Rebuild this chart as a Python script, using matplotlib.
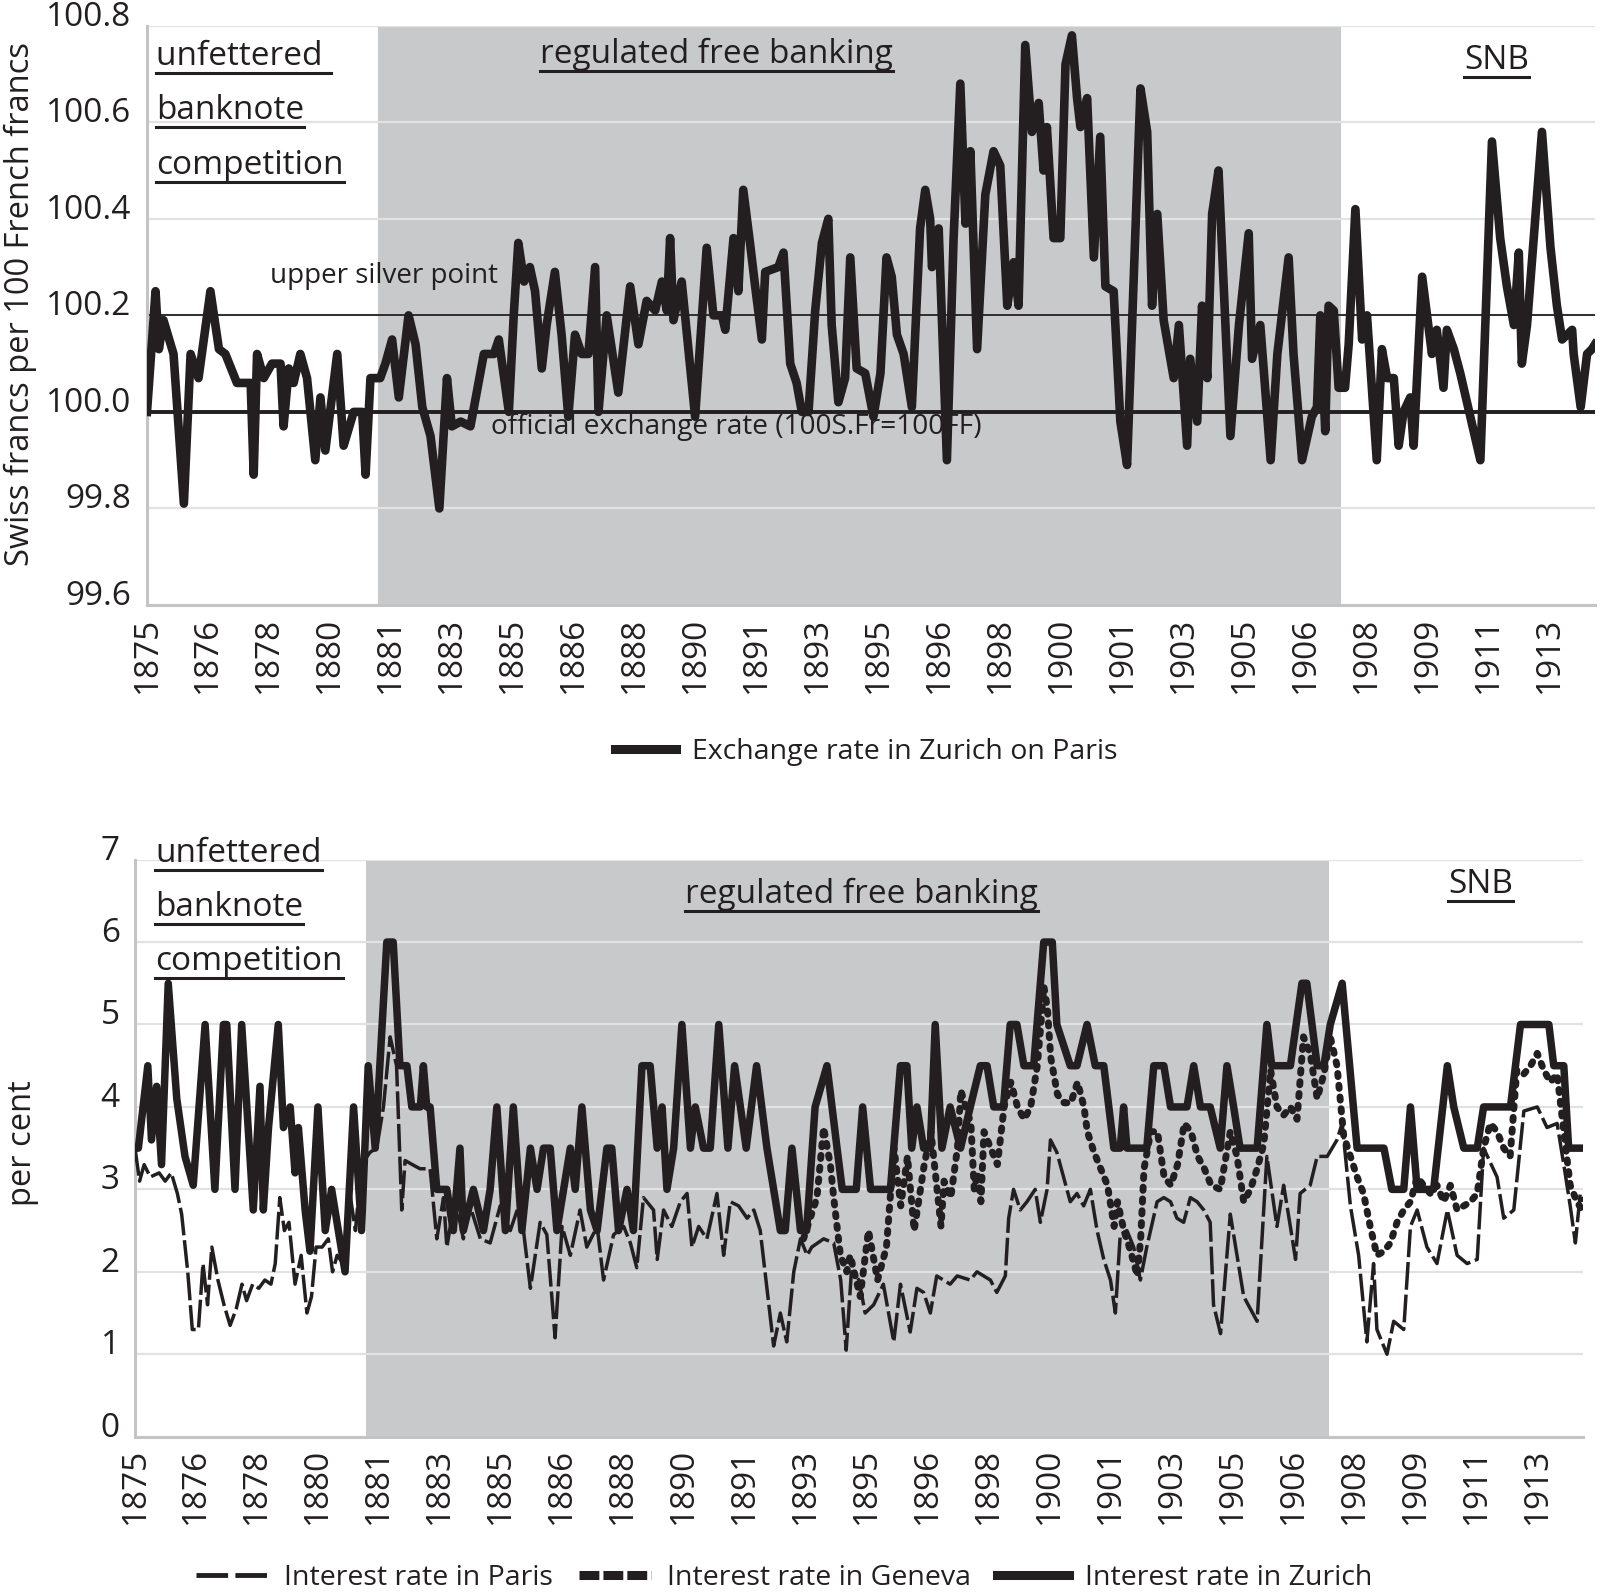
import numpy as np
import matplotlib.pyplot as plt
from matplotlib.lines import Line2D

plt.rcParams['font.family'] = ['Open Sans', 'DejaVu Sans']

INK = '#231f20'
SHADE = '#c8c9cb'
GRID = '#e2e2e2'
AXIS = '#c4c4c4'

W, H = 1600, 1593

# monthly observation index (0 = Jan 1875), one label every 20 observations
year_labels = ['1875', '1876', '1878', '1880', '1881', '1883', '1885', '1886',
               '1888', '1890', '1891', '1893', '1895', '1896', '1898', '1900',
               '1901', '1903', '1905', '1906', '1908', '1909', '1911', '1913']
n_obs = 476
regulated_start, regulated_end = 75.8, 391.7

official_rate = 100.0
upper_silver_point = 100.2

# exchange rate in Zurich on Paris (S.Fr per 100 FF)
fx_idx = [0, 2.8, 3.9, 5.4, 8.7, 12.1, 14.3, 16.9, 20.8, 23.6, 25.7, 29.5, 34.0, 35.0,
          36.1, 38.3, 41.0, 43.8, 44.8, 46.5, 48.1, 50.3, 52.5, 55.2, 56.9, 58.5, 62.4,
          64.5, 67.8, 70.6, 71.7, 73.3, 76.5, 78.2, 80.4, 82.6, 85.8, 88.1, 90.3, 93.0,
          95.9, 98.4, 100.0, 102.9, 106.1, 110.5, 113.8, 115.4, 118.7, 120.3, 121.8,
          123.7, 125.6, 127.3, 129.5, 131.1, 133.8, 136.0, 138.2, 140.4, 142.6, 144.8,
          147.0, 148.1, 150.8, 154.6, 158.5, 161.2, 163.9, 166.7, 168.9, 170.5, 171.6,
          172.7, 175.4, 179.8, 183.6, 185.8, 188.6, 189.7, 192.4, 194.0, 195.6, 197.8,
          199.5, 201.7, 202.8, 207.1, 208.8, 211.0, 213.1, 214.8, 217.0, 219.2, 221.4,
          223.5, 224.6, 226.8, 229.0, 230.7, 232.8, 235.6, 238.3, 240.6, 242.6, 244.3,
          246.0, 248.2, 250.9, 253.6, 255.3, 256.9, 257.5, 259.7, 262.4, 264.6, 266.8,
          268.5, 270.1, 272.3, 275.0, 277.7, 279.9, 282.2, 284.3, 285.9, 288.1, 290.3,
          292.5, 294.1, 295.2, 297.4, 299.6, 301.3, 303.4, 305.1, 306.2, 308.4, 310.6,
          312.7, 314.4, 317.1, 319.3, 321.5, 323.7, 325.9, 328.1, 329.7, 331.4, 333.5,
          336.8, 338.5, 341.2, 342.2, 344.5, 346.1, 347.8, 349.4, 351.5, 355.4, 358.2,
          361.4, 362.5, 365.2, 368.6, 370.8, 374.5, 376.1, 378.9, 382.1, 383.8, 384.9,
          386.5, 387.6, 389.3, 390.9, 393.0, 394.2, 396.4, 398.6, 400.2, 403.4, 405.1,
          406.8, 409.0, 410.6, 412.2, 414.4, 415.5, 418.3, 419.9, 421.5, 423.1, 425.3,
          426.4, 428.7, 430.8, 434.1, 437.4, 441.2, 443.9, 446.1, 448.4, 450.0, 451.0,
          452.7, 457.6, 460.4, 462.5, 464.2, 467.5, 468.0, 470.3, 472.4, 474.0, 475.0]
fx_val = [100.00, 100.25, 100.13, 100.19, 100.12, 99.81, 100.12, 100.07, 100.25, 100.13,
          100.12, 100.06, 100.06, 99.87, 100.12, 100.07, 100.10, 100.10, 99.97, 100.09,
          100.06, 100.12, 100.07, 99.90, 100.03, 99.92, 100.12, 99.93, 100.00, 100.00,
          99.87, 100.07, 100.07, 100.10, 100.15, 100.03, 100.20, 100.14, 100.01, 99.95,
          99.80, 100.07, 99.97, 99.98, 99.97, 100.12, 100.12, 100.15, 100.00, 100.20,
          100.35, 100.27, 100.30, 100.25, 100.09, 100.18, 100.29, 100.16, 99.99, 100.16,
          100.12, 100.12, 100.30, 100.00, 100.20, 100.04, 100.26, 100.14, 100.23, 100.21,
          100.27, 100.21, 100.36, 100.19, 100.27, 99.99, 100.34, 100.20, 100.20, 100.17,
          100.36, 100.25, 100.46, 100.35, 100.26, 100.15, 100.29, 100.30, 100.33, 100.10,
          100.06, 100.00, 100.00, 100.21, 100.35, 100.40, 100.18, 100.02, 100.07, 100.32,
          100.09, 100.08, 99.99, 100.08, 100.32, 100.28, 100.16, 100.12, 100.01, 100.38,
          100.46, 100.40, 100.30, 100.38, 99.90, 100.36, 100.68, 100.39, 100.54, 100.13,
          100.45, 100.54, 100.51, 100.22, 100.31, 100.22, 100.76, 100.58, 100.64, 100.50,
          100.59, 100.36, 100.36, 100.72, 100.78, 100.65, 100.59, 100.65, 100.32, 100.57,
          100.26, 100.25, 99.98, 99.89, 100.28, 100.67, 100.58, 100.22, 100.41, 100.19,
          100.07, 100.18, 99.93, 100.11, 99.98, 100.22, 100.07, 100.41, 100.50, 99.95,
          100.18, 100.37, 100.11, 100.18, 99.90, 100.12, 100.32, 100.12, 99.90, 99.99,
          100.01, 100.20, 99.96, 100.22, 100.21, 100.05, 100.05, 100.14, 100.42, 100.15,
          100.20, 99.90, 100.13, 100.07, 100.07, 99.93, 100.00, 100.03, 99.93, 100.28,
          100.20, 100.12, 100.17, 100.05, 100.17, 100.13, 100.08, 99.99, 99.90, 100.56,
          100.36, 100.26, 100.18, 100.33, 100.10, 100.18, 100.58, 100.34, 100.22, 100.15,
          100.17, 100.12, 100.01, 100.12, 100.13, 100.14]

# interest rate in Paris (per cent)
pa_idx = [0, 1.5, 3.0, 5.0, 7.9, 9.9, 11.9, 13.9, 15.3, 17.3, 18.8, 20.8, 22.3, 23.8,
          25.2, 27.2, 29.2, 31.2, 33.2, 35.1, 36.6, 38.6, 40.6, 42.6, 44.6, 46.0, 47.5,
          49.0, 50.5, 52.5, 54.5, 56.4, 57.9, 59.4, 61.4, 63.4, 64.8, 66.3, 68.3, 70.3,
          72.3, 74.3, 77.1, 79.3, 81.5, 83.7, 85.8, 87.5, 88.6, 91.0, 93.5, 96.8, 99.0,
          101.2, 102.3, 105.0, 107.7, 109.9, 113.3, 116.5, 119.8, 123.1, 126.3, 129.7,
          132.9, 135.1, 137.8, 140.1, 142.8, 146.0, 148.2, 151.6, 153.7, 157.0, 160.3,
          162.5, 164.6, 166.8, 170.1, 171.3, 173.4, 176.1, 178.9, 181.1, 182.7, 184.9,
          187.6, 190.9, 193.1, 195.3, 198.0, 200.8, 203.0, 205.1, 207.3, 209.5, 211.7,
          213.8, 216.1, 218.3, 220.5, 222.0, 225.9, 229.2, 231.5, 233.3, 235.0, 237.5,
          239.5, 242.3, 245.5, 248.9, 251.1, 254.3, 256.5, 258.7, 260.9, 263.0, 265.2,
          267.4, 269.7, 274.0, 276.2, 278.4, 280.6, 282.7, 285.5, 286.6, 288.2, 290.4,
          292.6, 295.3, 297.0, 299.2, 300.3, 302.4, 304.6, 306.8, 309.0, 311.2, 313.4,
          315.6, 317.8, 320.0, 321.6, 323.2, 325.4, 327.6, 329.8, 331.9, 335.3, 337.5,
          339.7, 341.8, 344.0, 346.2, 348.4, 350.6, 352.7, 353.8, 356.1, 359.3, 363.7,
          368.1, 371.3, 374.6, 376.8, 379.0, 380.7, 382.2, 385.5, 387.8, 391.1, 394.3,
          396.0, 398.7, 401.4, 404.1, 406.3, 407.4, 410.7, 412.9, 416.2, 418.4, 420.6,
          423.8, 427.1, 430.5, 433.7, 437.0, 440.3, 442.4, 446.8, 449.0, 452.3, 455.6,
          460.0, 463.2, 466.5, 468.7, 470.8, 472.5, 474.1, 475.0]
pa_val = [3.5, 3.1, 3.3, 3.15, 3.2, 3.1, 3.2, 2.95, 2.7, 2.0, 1.3, 1.3, 2.1, 1.6, 2.3,
          1.9, 1.6, 1.35, 1.55, 1.85, 1.65, 1.85, 1.8, 1.9, 1.85, 2.1, 2.9, 2.5, 2.6,
          1.85, 2.2, 1.5, 1.7, 2.3, 2.3, 2.4, 2.0, 2.2, 2.1, 3.0, 2.5, 3.3, 3.45, 3.5,
          4.0, 4.85, 4.5, 2.75, 3.35, 3.3, 3.25, 3.25, 2.4, 2.9, 2.3, 2.9, 2.4, 2.8, 2.4,
          2.35, 2.8, 2.5, 2.85, 1.8, 2.6, 2.45, 1.2, 2.55, 2.2, 2.75, 2.3, 2.55, 1.9,
          2.45, 2.55, 2.35, 2.05, 2.9, 2.75, 2.15, 2.75, 2.55, 2.85, 2.95, 2.3, 2.55, 2.4,
          2.95, 2.2, 2.85, 2.8, 2.65, 2.75, 2.5, 1.8, 1.1, 1.5, 1.15, 2.0, 2.4, 2.2, 2.3,
          2.4, 2.35, 1.9, 1.05, 2.0, 1.9, 1.5, 1.6, 1.85, 1.15, 1.85, 1.27, 1.8, 1.75,
          1.5, 1.95, 1.9, 1.85, 1.95, 1.9, 2.0, 1.95, 1.9, 1.75, 1.95, 2.65, 3.0, 2.75,
          2.85, 3.0, 2.6, 3.0, 3.6, 3.45, 3.15, 2.85, 2.95, 2.8, 3.0, 2.5, 2.15, 1.9,
          1.5, 2.45, 2.5, 2.3, 1.9, 2.3, 2.85, 2.9, 2.85, 2.65, 2.6, 2.9, 2.85, 2.75, 2.6,
          1.6, 1.25, 2.7, 1.7, 1.4, 3.4, 2.55, 3.05, 2.55, 2.15, 2.95, 3.05, 3.4, 3.4,
          3.6, 3.8, 2.8, 2.2, 1.15, 2.1, 1.3, 1.0, 1.4, 1.3, 2.55, 2.75, 2.3, 2.1, 2.75,
          2.2, 2.1, 2.15, 3.5, 3.15, 2.65, 2.75, 3.95, 4.0, 3.75, 3.8, 3.3, 2.8, 2.35,
          2.95, 2.85]

# interest rate in Geneva (per cent), series begins 1893
ge_idx = [219.3, 223.7, 225.9, 228.1, 229.2, 231.4, 233.5, 234.6, 237.9, 240.6, 243.6,
          246.5, 249.0, 251.2, 253.4, 255.6, 258.9, 261.1, 264.4, 265.4, 267.6, 269.8,
          270.9, 274.2, 275.3, 276.4, 277.5, 278.5, 280.7, 282.9, 285.1, 287.3, 289.5,
          291.7, 293.8, 296.0, 298.2, 299.3, 300.4, 302.6, 304.8, 307.0, 309.2, 311.3,
          312.4, 314.6, 316.8, 319.0, 321.2, 322.3, 324.4, 326.6, 328.8, 329.9, 331.0,
          333.2, 335.4, 337.6, 339.8, 342.0, 344.2, 346.4, 348.6, 350.8, 353.0, 356.0,
          359.3, 361.5, 363.7, 365.9, 368.1, 370.3, 372.5, 374.6, 376.8, 379.0, 381.2,
          383.3, 385.5, 387.8, 390.0, 392.1, 394.3, 396.5, 398.7, 400.9, 403.0, 405.2,
          407.4, 409.7, 411.8, 414.0, 416.2, 418.4, 420.6, 422.7, 424.9, 427.1, 429.3,
          431.5, 433.7, 435.9, 438.1, 440.3, 442.4, 444.6, 446.8, 449.0, 451.1, 453.3,
          455.6, 457.8, 460.0, 462.1, 464.3, 466.5, 468.7, 470.8, 473.0, 474.7]
ge_val = [2.4, 2.9, 3.75, 3.3, 2.9, 2.2, 2.0, 2.2, 1.7, 2.5, 1.9, 2.3, 3.5, 2.8, 3.4,
          2.5, 3.3, 3.7, 2.55, 3.1, 2.9, 3.5, 4.2, 3.8, 3.0, 3.2, 2.85, 3.7, 3.5, 3.3,
          4.0, 4.3, 4.0, 3.85, 4.0, 4.5, 5.45, 5.2, 4.6, 4.15, 4.05, 4.05, 4.3, 4.0, 3.7,
          3.45, 3.25, 3.05, 2.55, 2.85, 2.5, 2.25, 1.95, 2.4, 3.25, 3.7, 3.7, 3.15, 3.05,
          3.3, 3.8, 3.7, 3.4, 3.25, 3.05, 3.0, 3.7, 3.4, 2.85, 3.0, 3.25, 3.55, 4.45, 4.0,
          3.9, 4.0, 3.85, 4.85, 4.65, 4.1, 4.4, 4.85, 4.5, 3.65, 3.4, 3.15, 2.95, 2.55,
          2.2, 2.25, 2.35, 2.6, 2.75, 2.85, 3.15, 3.05, 2.95, 3.05, 2.85, 3.05, 2.75, 2.8,
          2.85, 2.95, 3.5, 3.8, 3.7, 3.5, 3.4, 4.45, 4.4, 4.5, 4.65, 4.45, 4.3, 4.4, 3.7,
          3.05, 2.85, 2.75]

# interest rate in Zurich (per cent)
zh_idx = [0, 1.1, 4.2, 5.4, 7.1, 8.7, 10.9, 13.7, 16.4, 19.1, 23.0, 26.2, 29.0, 30.1,
          32.8, 35.0, 38.8, 41.0, 42.1, 43.8, 47.0, 48.7, 50.9, 52.5, 53.6, 55.8, 57.4,
          60.0, 62.4, 64.5, 66.7, 68.9, 71.7, 74.3, 76.5, 78.8, 82.6, 84.7, 86.9, 89.2,
          90.8, 93.6, 94.6, 95.7, 96.8, 99.0, 102.3, 104.4, 106.6, 107.7, 111.0, 114.3,
          116.5, 118.7, 121.5, 124.1, 126.9, 129.7, 131.9, 134.0, 136.2, 138.4, 142.8,
          144.4, 146.6, 149.4, 151.6, 154.8, 156.4, 158.6, 161.4, 163.5, 166.3, 169.0,
          171.3, 172.9, 174.5, 176.7, 179.4, 182.2, 183.8, 186.5, 188.7, 191.5, 194.5,
          196.7, 200.5, 203.9, 207.3, 209.5, 211.7, 213.3, 215.5, 218.3, 220.3, 223.1,
          227.0, 230.3, 232.0, 236.6, 238.7, 241.3, 247.8, 251.1, 253.2, 254.8, 256.5,
          258.7, 260.9, 262.5, 264.7, 267.4, 270.8, 274.0, 277.3, 279.5, 281.7, 284.9,
          287.1, 289.3, 291.6, 294.8, 298.1, 300.9, 302.4, 306.8, 309.0, 312.3, 315.0,
          317.8, 321.1, 323.2, 324.3, 325.4, 331.9, 334.2, 337.5, 339.7, 345.1, 347.3,
          349.5, 352.7, 356.0, 358.2, 360.4, 362.5, 368.1, 371.3, 372.9, 379.0, 382.8,
          384.4, 387.8, 390.0, 392.1, 396.0, 400.9, 409.7, 412.3, 416.2, 418.4, 420.6,
          426.0, 430.5, 432.6, 435.9, 440.3, 442.4, 451.2, 454.5, 463.8, 465.4, 468.7,
          470.3, 475.0]
zh_val = [3.5, 3.5, 4.5, 3.6, 4.25, 3.3, 5.5, 4.1, 3.4, 3.05, 5.0, 3.0, 5.0, 5.0, 3.0,
          5.0, 2.75, 4.25, 2.75, 3.75, 5.0, 3.75, 4.0, 3.2, 3.75, 2.75, 2.25, 4.0, 2.5,
          3.0, 2.5, 2.0, 4.0, 2.5, 4.5, 3.5, 6.0, 6.0, 4.5, 4.5, 4.0, 4.0, 4.5, 4.0, 4.0,
          3.0, 3.0, 2.5, 3.5, 2.5, 3.0, 2.5, 3.0, 4.0, 2.5, 4.0, 2.5, 3.5, 3.0, 3.5, 3.5,
          2.5, 3.5, 3.0, 4.0, 2.75, 2.5, 3.5, 3.5, 2.5, 3.0, 2.5, 4.5, 4.5, 3.5, 4.0, 3.0,
          3.5, 5.0, 3.5, 4.0, 3.5, 3.5, 5.0, 3.5, 4.5, 3.5, 4.5, 3.5, 3.0, 2.5, 2.5, 3.5,
          2.5, 2.5, 4.0, 4.5, 3.5, 3.0, 3.0, 4.0, 3.0, 3.0, 4.5, 4.5, 3.5, 4.0, 3.5, 3.5,
          5.0, 3.5, 4.0, 3.5, 4.0, 4.5, 4.5, 4.0, 4.0, 5.0, 5.0, 4.5, 4.5, 6.0, 6.0, 5.0,
          4.5, 4.5, 5.0, 4.5, 4.5, 3.5, 3.5, 4.0, 3.5, 3.5, 4.5, 4.5, 4.0, 4.0, 4.5, 4.0,
          4.0, 3.5, 4.5, 4.0, 3.5, 3.5, 5.0, 4.5, 4.5, 5.5, 5.5, 4.5, 4.5, 5.0, 5.5, 3.5,
          3.5, 3.0, 3.0, 4.0, 3.0, 3.0, 4.5, 4.0, 3.5, 3.5, 4.0, 4.0, 5.0, 5.0, 4.5, 4.5,
          3.5, 3.5]


def fx(px):
    return px / W


def fy(py):
    return 1 - py / H


def style_axes(ax, yticks, ylabels, xpad, ypad):
    ax.set_xlim(0, n_obs - 1)
    ax.set_ylim(yticks[0], yticks[-1])
    ax.axvspan(regulated_start, regulated_end, color=SHADE, lw=0, zorder=0)
    ax.set_axisbelow(True)
    ax.set_xticks(np.arange(0, 20 * len(year_labels), 20))
    ax.set_xticklabels(year_labels, rotation=90, fontsize=24, color=INK)
    ax.set_xticks(np.arange(40, n_obs, 40), minor=True)
    ax.set_yticks(yticks)
    ax.set_yticklabels(ylabels, fontsize=24, color=INK, va='baseline')
    ax.tick_params(axis='x', which='both', length=0, pad=xpad)
    ax.tick_params(axis='y', length=0, pad=ypad)
    ax.grid(axis='x', which='minor', color=GRID, lw=1.6)
    ax.grid(axis='y', which='major', color=GRID, lw=1.6)
    for side in ('top', 'right'):
        ax.spines[side].set_visible(False)
    for side in ('left', 'bottom'):
        ax.spines[side].set_color(AXIS)
        ax.spines[side].set_linewidth(2.2)


fig = plt.figure(figsize=(W / 100, H / 100), dpi=100)
ax1 = fig.add_axes([fx(147), fy(605), 1448 / W, (605 - 25.7) / H])
ax2 = fig.add_axes([fx(135), fy(1436.7), 1448 / W, (1436.7 - 859.6) / H])

# top panel: exchange rate
top_ticks = [99.6, 99.8, 100.0, 100.2, 100.4, 100.6, 100.8]
style_axes(ax1, top_ticks, [f'{v:.1f}' for v in top_ticks], xpad=8.5, ypad=11.5)
ax1.axhline(upper_silver_point, color=INK, lw=1.3, zorder=2)
ax1.axhline(official_rate, color=INK, lw=2.8, zorder=2)
ax1.plot(fx_idx, fx_val, color=INK, lw=6.2, zorder=3, solid_joinstyle='round')

ax1.text(fx(270), fy(275.5), 'upper silver point', transform=fig.transFigure,
         fontsize=20, color=INK, va='center', ha='left', zorder=2.5)
ax1.text(fx(491), fy(426.6), 'official exchange rate (100S.Fr=100FF)',
         transform=fig.transFigure, fontsize=20.2, color=INK, va='center',
         ha='left', zorder=2.5)

# bottom panel: interest rates
bot_ticks = list(range(0, 8))
style_axes(ax2, bot_ticks, [str(v) for v in bot_ticks], xpad=8, ypad=11)
ax2.plot(pa_idx, pa_val, color=INK, lw=2.5, ls=(0, (8, 1.4)), zorder=3)
ax2.plot(ge_idx, ge_val, color=INK, lw=5.0, ls=(0, (0.45, 1.25)),
         dash_capstyle='round', zorder=3)
ax2.plot(zh_idx, zh_val, color=INK, lw=5.4, zorder=3, solid_joinstyle='round')

fig.text(fx(20.5), fy(304), 'Swiss francs per 100 French francs', rotation=90,
         fontsize=23.5, color=INK, ha='center', va='center')
fig.text(fx(22.5), fy(1143), 'per cent', rotation=90, fontsize=23.5, color=INK,
         ha='center', va='center')

# period labels, underlined
period_texts = [
    (156, 65.2, 'unfettered '), (156, 118.6, 'banknote'), (156, 174.0, 'competition'),
    (540, 63.2, 'regulated free banking'), (1464, 69.2, 'SNB'),
    (155, 861.6, 'unfettered'), (155, 916.2, 'banknote'), (155, 970.3, 'competition'),
    (685, 903.0, 'regulated free banking'), (1448, 893.2, 'SNB'),
]
placed = []
for x, y, s in period_texts:
    t = fig.text(fx(x), fy(y), s, fontsize=24, color=INK, ha='left', va='baseline')
    placed.append((t, y))

# legends
fx_handle = Line2D([], [], color=INK, lw=6.5)
fig.legend([fx_handle], ['Exchange rate in Zurich on Paris'], loc='center',
           bbox_to_anchor=(fx(866), fy(752)), frameon=False, fontsize=20.5,
           handlelength=2.15, handletextpad=0.55, labelcolor=INK)

pa_handle = Line2D([], [], color=INK, lw=3.5, ls=(0, (6.5, 1.5)))
ge_handle = Line2D([], [], color=INK, lw=6.5, ls=(0, (2.2, 0.45)))
zh_handle = Line2D([], [], color=INK, lw=6.5)
fig.legend([pa_handle, ge_handle, zh_handle],
           ['Interest rate in Paris', 'Interest rate in Geneva', 'Interest rate in Zurich'],
           loc='center', ncol=3, bbox_to_anchor=(fx(784), fy(1578)), frameon=False,
           fontsize=20.5, handlelength=2.55, handletextpad=0.55, columnspacing=0.9,
           labelcolor=INK)

renderer = fig.canvas.get_renderer()
for t, y in placed:
    bb = t.get_window_extent(renderer)
    yl = fy(y + 8)
    fig.add_artist(Line2D([bb.x0 / W, bb.x1 / W], [yl, yl], color=INK, lw=2.2,
                          transform=fig.transFigure))

fig.savefig('out.png', dpi=100)
